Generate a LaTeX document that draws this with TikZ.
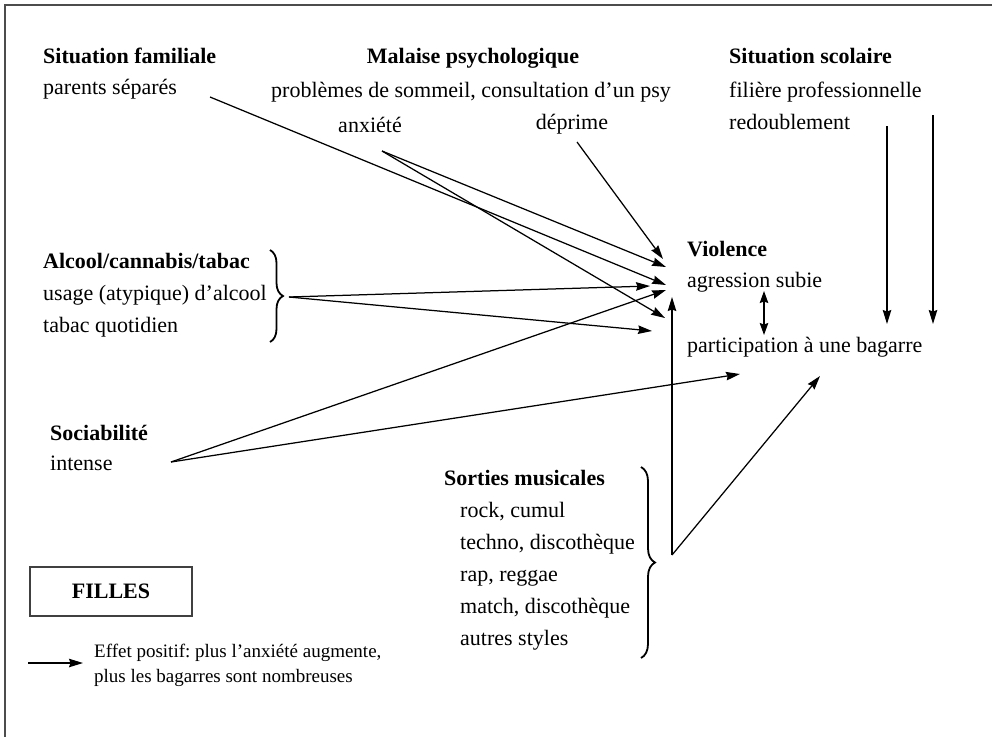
\documentclass[tikz,border=0pt]{standalone}
\usepackage{fontspec}
\setmainfont{Liberation Serif}
\usetikzlibrary{arrows.meta,decorations.pathreplacing}
\frenchspacing
\begin{document}
\begin{tikzpicture}[x=1pt,y=-1pt,
  lbl/.style={anchor=base west, inner sep=0pt, font=\fontsize{22}{26}\selectfont},
  hd/.style={anchor=base west, inner sep=0pt, font=\fontsize{22}{26}\selectfont\bfseries},
  leg/.style={anchor=base west, inner sep=0pt, font=\fontsize{19}{22}\selectfont},
  arr/.style={line width=1.25pt, -{Stealth[length=14pt,width=8.5pt,inset=1.5pt]}},
  darr/.style={line width=1.25pt, {Stealth[length=12pt,width=8.5pt,inset=1.5pt]}-{Stealth[length=12pt,width=8.5pt,inset=1.5pt]}},
  brc/.style={line width=1.8pt, decorate, decoration={brace, amplitude=13pt}}]
\useasboundingbox (0,0) rectangle (992,737);
% frame
\draw[line width=1.4pt, black!70] (4,5) -- (992,5);
\draw[line width=1.4pt, black!70] (5,5) -- (5,737);

% texts
\node[hd]  (famT) at (43,63) {Situation familiale};
\node[lbl] (famA) at (43,94) {parents séparés};
\node[hd, anchor=base]  (malT) at (473,63) {Malaise psychologique};
\node[lbl, anchor=base] (malA) at (471,97) {problèmes de sommeil, consultation d’un psy};
\node[lbl, anchor=base] (anx) at (370,132) {anxiété};
\node[lbl, anchor=base] (dep) at (572,129) {déprime};
\node[hd]  (scoT) at (729,63) {Situation scolaire};
\node[lbl] (scoA) at (729,97) {filière professionnelle};
\node[lbl] (scoB) at (729,129) {redoublement};
\node[hd]  (alcT) at (43,268) {Alcool/cannabis/tabac};
\node[lbl] (alcA) at (43,300) {usage (atypique) d’alcool};
\node[lbl] (alcB) at (43,332) {tabac quotidien};
\node[hd]  (socT) at (50,440) {Sociabilité};
\node[lbl] (socA) at (50,470) {intense};
\node[hd]  (vioT) at (687,256) {Violence};
\node[lbl] (vioA) at (687,287) {agression subie};
\node[lbl] (vioB) at (687,352) {participation à une bagarre};
\node[hd]  (sorT) at (444,485) {Sorties musicales};
\node[lbl] (sor1) at (460,517) {rock, cumul};
\node[lbl] (sor2) at (460,549) {techno, discothèque};
\node[lbl] (sor3) at (460,581) {rap, reggae};
\node[lbl] (sor4) at (460,613) {match, discothèque};
\node[lbl] (sor5) at (460,645) {autres styles};
\node[draw, line width=1.1pt, black!75, text=black, minimum width=162pt, minimum height=49pt, inner sep=0pt,
      font=\fontsize{22}{26}\selectfont\bfseries] (filles) at (111,591.5) {FILLES};
\node[leg] (leg1) at (94,657) {Effet positif: plus l’anxiété augmente,};
\node[leg] (leg2) at (94,682) {plus les bagarres sont nombreuses};

% braces
\coordinate (brA1) at (270,250);
\coordinate (brA2) at (270,342);
\coordinate (brS1) at (641,467);
\coordinate (brS2) at (641,658);
\draw[brc] (brA1) -- (brA2);
\draw[brc, decoration={brace, amplitude=14pt}] (brS1) -- (brS2);

% connector end points
\coordinate (pFam) at (210,97);
\coordinate (pAnx) at (382,151);
\coordinate (pDep) at (577,142);
\coordinate (pAlc) at (289,297);
\coordinate (pSoc) at (171,462);
\coordinate (pSco1) at (887,126);
\coordinate (pSco2) at (933,115);
\coordinate (pSor) at (672,555);
\coordinate (vDep) at (663,259);
\coordinate (vAnx1) at (666,267);
\coordinate (vFam) at (666,285);
\coordinate (vAlc1) at (650,286);
\coordinate (vSoc1) at (666,290);
\coordinate (vAnx2) at (665,318);
\coordinate (vAlc2) at (652,331);
\coordinate (vSor1) at (672,297);
\coordinate (bSoc) at (740,374);
\coordinate (bSor) at (820,376);
\coordinate (bSco1) at (887,324);
\coordinate (bSco2) at (933,324);
\coordinate (dTop) at (764,291);
\coordinate (dBot) at (764,335);
\coordinate (lg1) at (28,663);
\coordinate (lg2) at (83,663);

% connectors
\draw[arr] (pFam) -- (vFam);
\draw[arr] (pAnx) -- (vAnx1);
\draw[arr] (pAnx) -- (vAnx2);
\draw[arr] (pDep) -- (vDep);
\draw[arr] (pAlc) -- (vAlc1);
\draw[arr] (pAlc) -- (vAlc2);
\draw[arr] (pSoc) -- (vSoc1);
\draw[arr] (pSoc) -- (bSoc);
\draw[arr] (pSco1) -- (bSco1);
\draw[arr] (pSco2) -- (bSco2);
\draw[arr] (pSor) -- (vSor1);
\draw[arr] (pSor) -- (bSor);
\draw[darr] (dTop) -- (dBot);
\draw[arr] (lg1) -- (lg2);
\end{tikzpicture}
\end{document}
